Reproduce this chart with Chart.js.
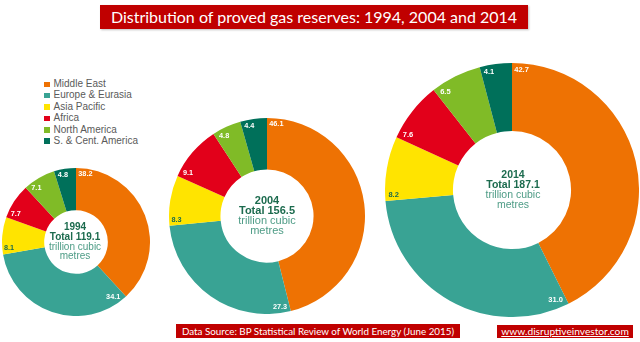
<!DOCTYPE html>
<html>
<head>
<meta charset="utf-8">
<script src="https://cdn.jsdelivr.net/npm/chart.js@4.4.1/dist/chart.umd.min.js"></script>
<style>
  html, body { margin: 0; padding: 0; background: #fff; }
  body { width: 640px; height: 342px; position: relative; overflow: hidden; font-family: 'Liberation Sans', Arial, sans-serif; }
  .box { position: absolute; background: #c00000; color: #fff; font-family: Lato, 'Open Sans', sans-serif; white-space: nowrap; text-align: center; }
  #title { left: 100px; top: 5px; width: 428px; height: 24px; line-height: 24px; font-size: 16px; box-shadow: 1px 1px 2px rgba(0,0,0,0.25); }
  #source { left: 176px; top: 324px; width: 284px; height: 14px; line-height: 14px; font-size: 9.8px; }
  #site { left: 497px; top: 325px; width: 136px; height: 13px; line-height: 13px; font-size: 10.2px; text-decoration: underline; }
  #legend { position: absolute; left: 44px; top: 78px; font-size: 10px; color: #5a5a5a; }
  #legend div { height: 11.4px; line-height: 11.4px; white-space: nowrap; }
  #legend span { display: inline-block; width: 5.5px; height: 5.5px; margin-right: 4px; vertical-align: 0px; }
  canvas { position: absolute; }
</style>
</head>
<body>
<div id="title" class="box">Distribution of proved gas reserves: 1994, 2004 and 2014</div>
<div id="legend"></div>
<canvas id="c1994" width="148" height="148" style="left:2px;top:168px"></canvas>
<canvas id="c2004" width="196" height="196" style="left:169px;top:118px"></canvas>
<canvas id="c2014" width="254" height="254" style="left:385px;top:63px"></canvas>
<div id="source" class="box">Data Source: BP Statistical Review of World Energy (June 2015)</div>
<div id="site" class="box">www.disruptiveinvestor.com</div>
<script>
const regions = ['Middle East', 'Europe & Eurasia', 'Asia Pacific', 'Africa', 'North America', 'S. & Cent. America'];
const colors = ['#ee7203', '#39a394', '#ffe400', '#e2001a', '#80bb27', '#00705a'];
const years = ['1994', '2004', '2014'];
const totals = [119.1, 156.5, 187.1];
const share1994 = [38.2, 34.1, 8.1, 7.7, 7.1, 4.8];
const share2004 = [46.1, 27.3, 8.3, 9.1, 4.8, 4.4];
const share2014 = [42.7, 31.0, 8.2, 7.6, 6.5, 4.1];

const darkGreen = '#1c6b4e';
const lightTeal = '#4e9c86';

// legend
const legend = document.getElementById('legend');
regions.forEach((r, i) => {
    const row = document.createElement('div');
    row.innerHTML = '<span style="background:' + colors[i] + '"></span>' + r;
    legend.appendChild(row);
});

// value labels sitting just inside the rim, at the leading edge of each slice
const sliceLabels = {
    id: 'sliceLabels',
    afterDatasetsDraw(chart, args, opts) {
        const ctx = chart.ctx;
        const meta = chart.getDatasetMeta(0);
        const values = chart.data.datasets[0].data;
        ctx.save();
        ctx.font = 'bold ' + opts.size + 'px "Liberation Sans", Arial, sans-serif';
        ctx.textAlign = 'center';
        ctx.textBaseline = 'middle';
        meta.data.forEach((arc, i) => {
            const p = arc.getProps(['x', 'y', 'startAngle', 'outerRadius'], true);
            const txt = values[i].toFixed(1);
            const hw = ctx.measureText(txt).width / 2;
            const hh = opts.size * 0.4;
            let a = p.startAngle + 0.1;
            let rl = p.outerRadius;
            for (let k = 0; k < 4; k++) {
                const ux = Math.cos(a), uy = Math.sin(a);
                rl = p.outerRadius - opts.pad - hw * Math.abs(ux) - hh * Math.abs(uy);
                const ext = hw * Math.abs(uy) + hh * Math.abs(ux);
                a = p.startAngle + (ext + opts.gap) / rl;
            }
            ctx.fillStyle = i === 2 ? darkGreen : '#fff';
            ctx.fillText(txt, p.x + rl * Math.cos(a), p.y + rl * Math.sin(a));
        });
        ctx.restore();
    }
};

// year / total in the hole
const centerText = {
    id: 'centerText',
    afterDraw(chart, args, opts) {
        const ctx = chart.ctx;
        const arc = chart.getDatasetMeta(0).data[0];
        const cx = arc.x - opts.shift, cy = arc.y;
        const lh = opts.lineHeight;
        const lines = [
            [opts.year, 'bold', darkGreen],
            ['Total ' + opts.total.toFixed(1), 'bold', darkGreen],
            ['trillion cubic', 'normal', lightTeal],
            ['metres', 'normal', lightTeal]
        ];
        ctx.save();
        ctx.textAlign = 'center';
        ctx.textBaseline = 'middle';
        lines.forEach((l, i) => {
            ctx.font = l[1] + ' ' + opts.size + 'px "Liberation Sans", Arial, sans-serif';
            ctx.fillStyle = l[2];
            ctx.fillText(l[0], cx, cy + (i - 1.5) * lh);
        });
        ctx.restore();
    }
};

function ring(id, values, cutout, year, total, o) {
    new Chart(document.getElementById(id), {
        type: 'doughnut',
        data: {
            labels: regions,
            datasets: [{
                data: values,
                backgroundColor: colors,
                borderWidth: 0,
                hoverOffset: 0
            }]
        },
        options: {
            responsive: false,
            animation: false,
            cutout: cutout,
            layout: { padding: 0 },
            plugins: {
                legend: { display: false },
                tooltip: { enabled: false },
                sliceLabels: { size: o.label, pad: o.pad, gap: 2 },
                centerText: { year: year, total: total, size: o.text, lineHeight: o.lh, shift: o.shift }
            }
        },
        plugins: [sliceLabels, centerText]
    });
}

ring('c1994', share1994, '43%', years[0], totals[0], { label: 7.3, pad: 1.5, text: 10, lh: 9.7, shift: 1 });
ring('c2004', share2004, '47.5%', years[1], totals[1], { label: 7.3, pad: 2.2, text: 11, lh: 9.8, shift: 0 });
ring('c2014', share2014, '46.5%', years[2], totals[2], { label: 7.5, pad: 3.2, text: 10.5, lh: 9.8, shift: -1 });
</script>
</body>
</html>
